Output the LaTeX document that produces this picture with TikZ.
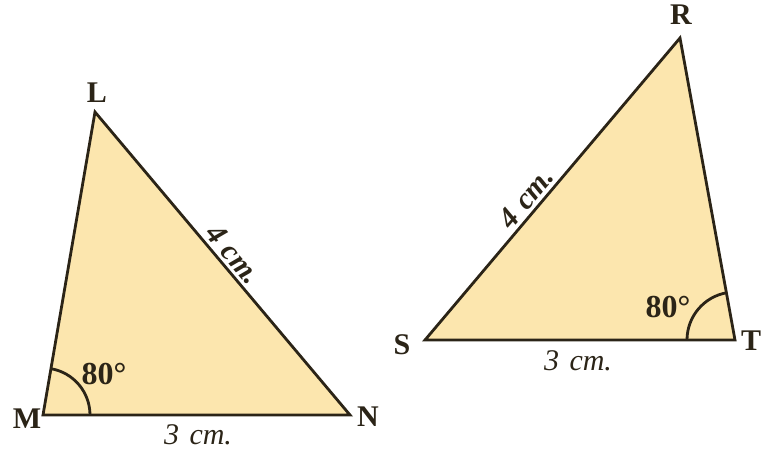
\documentclass[tikz,border=0pt]{standalone}
\usepackage{fontspec}
\setmainfont{Liberation Serif}
\usetikzlibrary{calc}
\begin{document}
\begin{tikzpicture}[x=1pt,y=-1pt,
  tri/.style={draw=linec, fill=fillc, line width=2.8pt, line join=miter},
  vlabel/.style={font=\fontsize{30}{30}\selectfont\bfseries, text=linec, inner sep=0pt},
  side/.style={font=\fontsize{30}{30}\selectfont\itshape, text=linec, inner sep=0pt},
  sideb/.style={font=\fontsize{30}{30}\selectfont\bfseries\itshape, text=linec, inner sep=4pt},
  ang/.style={font=\fontsize{32}{32}\selectfont\bfseries, text=linec, inner sep=0pt},
  arcl/.style={draw=linec, line width=2.8pt}]
\definecolor{fillc}{HTML}{FCE6AE}
\definecolor{linec}{HTML}{2B2417}
\useasboundingbox (0,0) rectangle (763,451);
% left triangle
\coordinate (L) at (95,112);
\coordinate (M) at (43,415);
\coordinate (N) at (350,415);
\draw[tri] (L) -- (M) -- (N) -- cycle;
\draw[arcl] ($(M)+(47,0)$) arc[start angle=0, end angle=-80.3, radius=47];
\node[vlabel] (lL) at (97,93) {L};
\node[vlabel] (lM) at (27,419) {M};
\node[vlabel] (lN) at (368,417) {N};
\node[ang] (aM) at (104,374) {80°};
\node[side] (sMN) at (198,435) {3\hspace{0.35em}cm.};
\path (L) -- (N) node[pos=0.5, above, sloped, sideb] (sLN) {4\hspace{0.3em}cm.};
% right triangle
\coordinate (R) at (680,38);
\coordinate (S) at (425,340);
\coordinate (T) at (735,340);
\draw[tri] (R) -- (S) -- (T) -- cycle;
\draw[arcl] ($(T)+(-48,0)$) arc[start angle=180, end angle=260.3, radius=48];
\node[vlabel] (lR) at (681,15) {R};
\node[vlabel] (lS) at (402,345) {S};
\node[vlabel] (lT) at (751,341) {T};
\node[ang] (aT) at (668,307) {80°};
\node[side] (sST) at (578,361) {3\hspace{0.35em}cm.};
\path (S) -- (R) node[pos=0.44, above, sloped, sideb] (sSR) {4\hspace{0.3em}cm.};
\end{tikzpicture}
\end{document}
